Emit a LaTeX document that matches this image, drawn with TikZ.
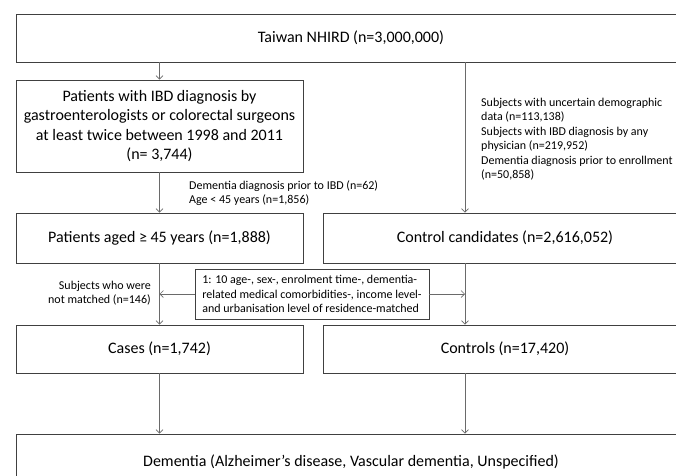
\documentclass[tikz,border=0pt]{standalone}
\usepackage{fontspec}
\setmainfont{Carlito}
\usetikzlibrary{arrows.meta,calc}
\definecolor{boxline}{HTML}{404040}
\definecolor{conn}{HTML}{6A6A6A}
\tikzset{
  flowbox/.style={draw=boxline, line width=0.9pt, inner sep=0pt, align=center,
    font=\fontsize{16}{19.5}\selectfont, text=black},
  smalltxt/.style={inner sep=0pt, font=\fontsize{12}{14.5}\selectfont, text=black},
  arr/.style={draw=conn, line width=0.7pt, -{Straight Barb[length=3.5pt,width=7pt,line width=0.6pt]}},
  plainline/.style={draw=conn, line width=0.7pt}
}
\begin{document}
\begin{tikzpicture}[x=1pt,y=-1pt]
\useasboundingbox (0,0) rectangle (676,475);
\fill[white] (0,0) rectangle (676,475);
% boxes
\node[flowbox, minimum width=670pt, minimum height=48pt] (top) at (351,38) {Taiwan NHIRD (n=3,000,000)};
\node[flowbox, minimum width=287pt, minimum height=92pt] (box1) at (159.5,126)
  {Patients with IBD diagnosis by\\gastroenterologists or colorectal surgeons\\at least twice between 1998 and 2011\\(n= 3,744)};
\node[flowbox, minimum width=287pt, minimum height=50pt] (box2) at (159.5,238) {Patients aged ≥ 45 years (n=1,888)};
\node[flowbox, minimum width=364pt, minimum height=50pt] (box3) at (505,238) {Control candidates (n=2,616,052)};
\node[flowbox, minimum width=234pt, minimum height=50pt, align=left,
  font=\fontsize{12}{14.5}\selectfont] (mid) at (312,294)
  {1: 10 age-, sex-, enrolment time-, dementia-\\related medical comorbidities-, income level-\\and urbanisation level of residence-matched};
\node[flowbox, minimum width=287pt, minimum height=48pt] (box4) at (159.5,349) {Cases (n=1,742)};
\node[flowbox, minimum width=364pt, minimum height=48pt] (box5) at (505,349) {Controls (n=17,420)};
\node[flowbox, minimum width=670pt, minimum height=56pt] (box6) at (351,462) {Dementia (Alzheimer’s disease, Vascular dementia, Unspecified)};
% labels
\node[smalltxt, anchor=west, align=left] (lbl1) at (189,193)
  {Dementia diagnosis prior to IBD (n=62)\\Age < 45 years (n=1,856)};
\node[smalltxt, anchor=west, align=left] (rtext) at (481,139)
  {Subjects with uncertain demographic\\data (n=113,138)\\Subjects with IBD diagnosis by any\\physician (n=219,952)\\Dementia diagnosis prior to enrollment\\(n=50,858)};
\node[smalltxt, anchor=east, align=right] (nm) at (151,293)
  {Subjects who were\\not matched (n=146)};
% connector column
\coordinate (cx) at (465,0);
% connectors
\draw[arr] (top.south -| box1) -- (box1.north);
\draw[arr] (top.south -| cx) -- (box3.north -| cx);
\draw[arr] (box1.south) -- (box2.north);
\draw[arr] (box2.south) -- (box4.north);
\draw[arr] (box3.south -| cx) -- (box5.north -| cx);
\draw[arr] (mid.west) -- (mid.west -| box2);
\draw[arr] (mid.east) -- (mid.east -| cx);
\draw[arr] (box4.south) -- (box6.north -| box4);
\draw[arr] (box5.south -| cx) -- (box6.north -| cx);
\end{tikzpicture}
\end{document}
